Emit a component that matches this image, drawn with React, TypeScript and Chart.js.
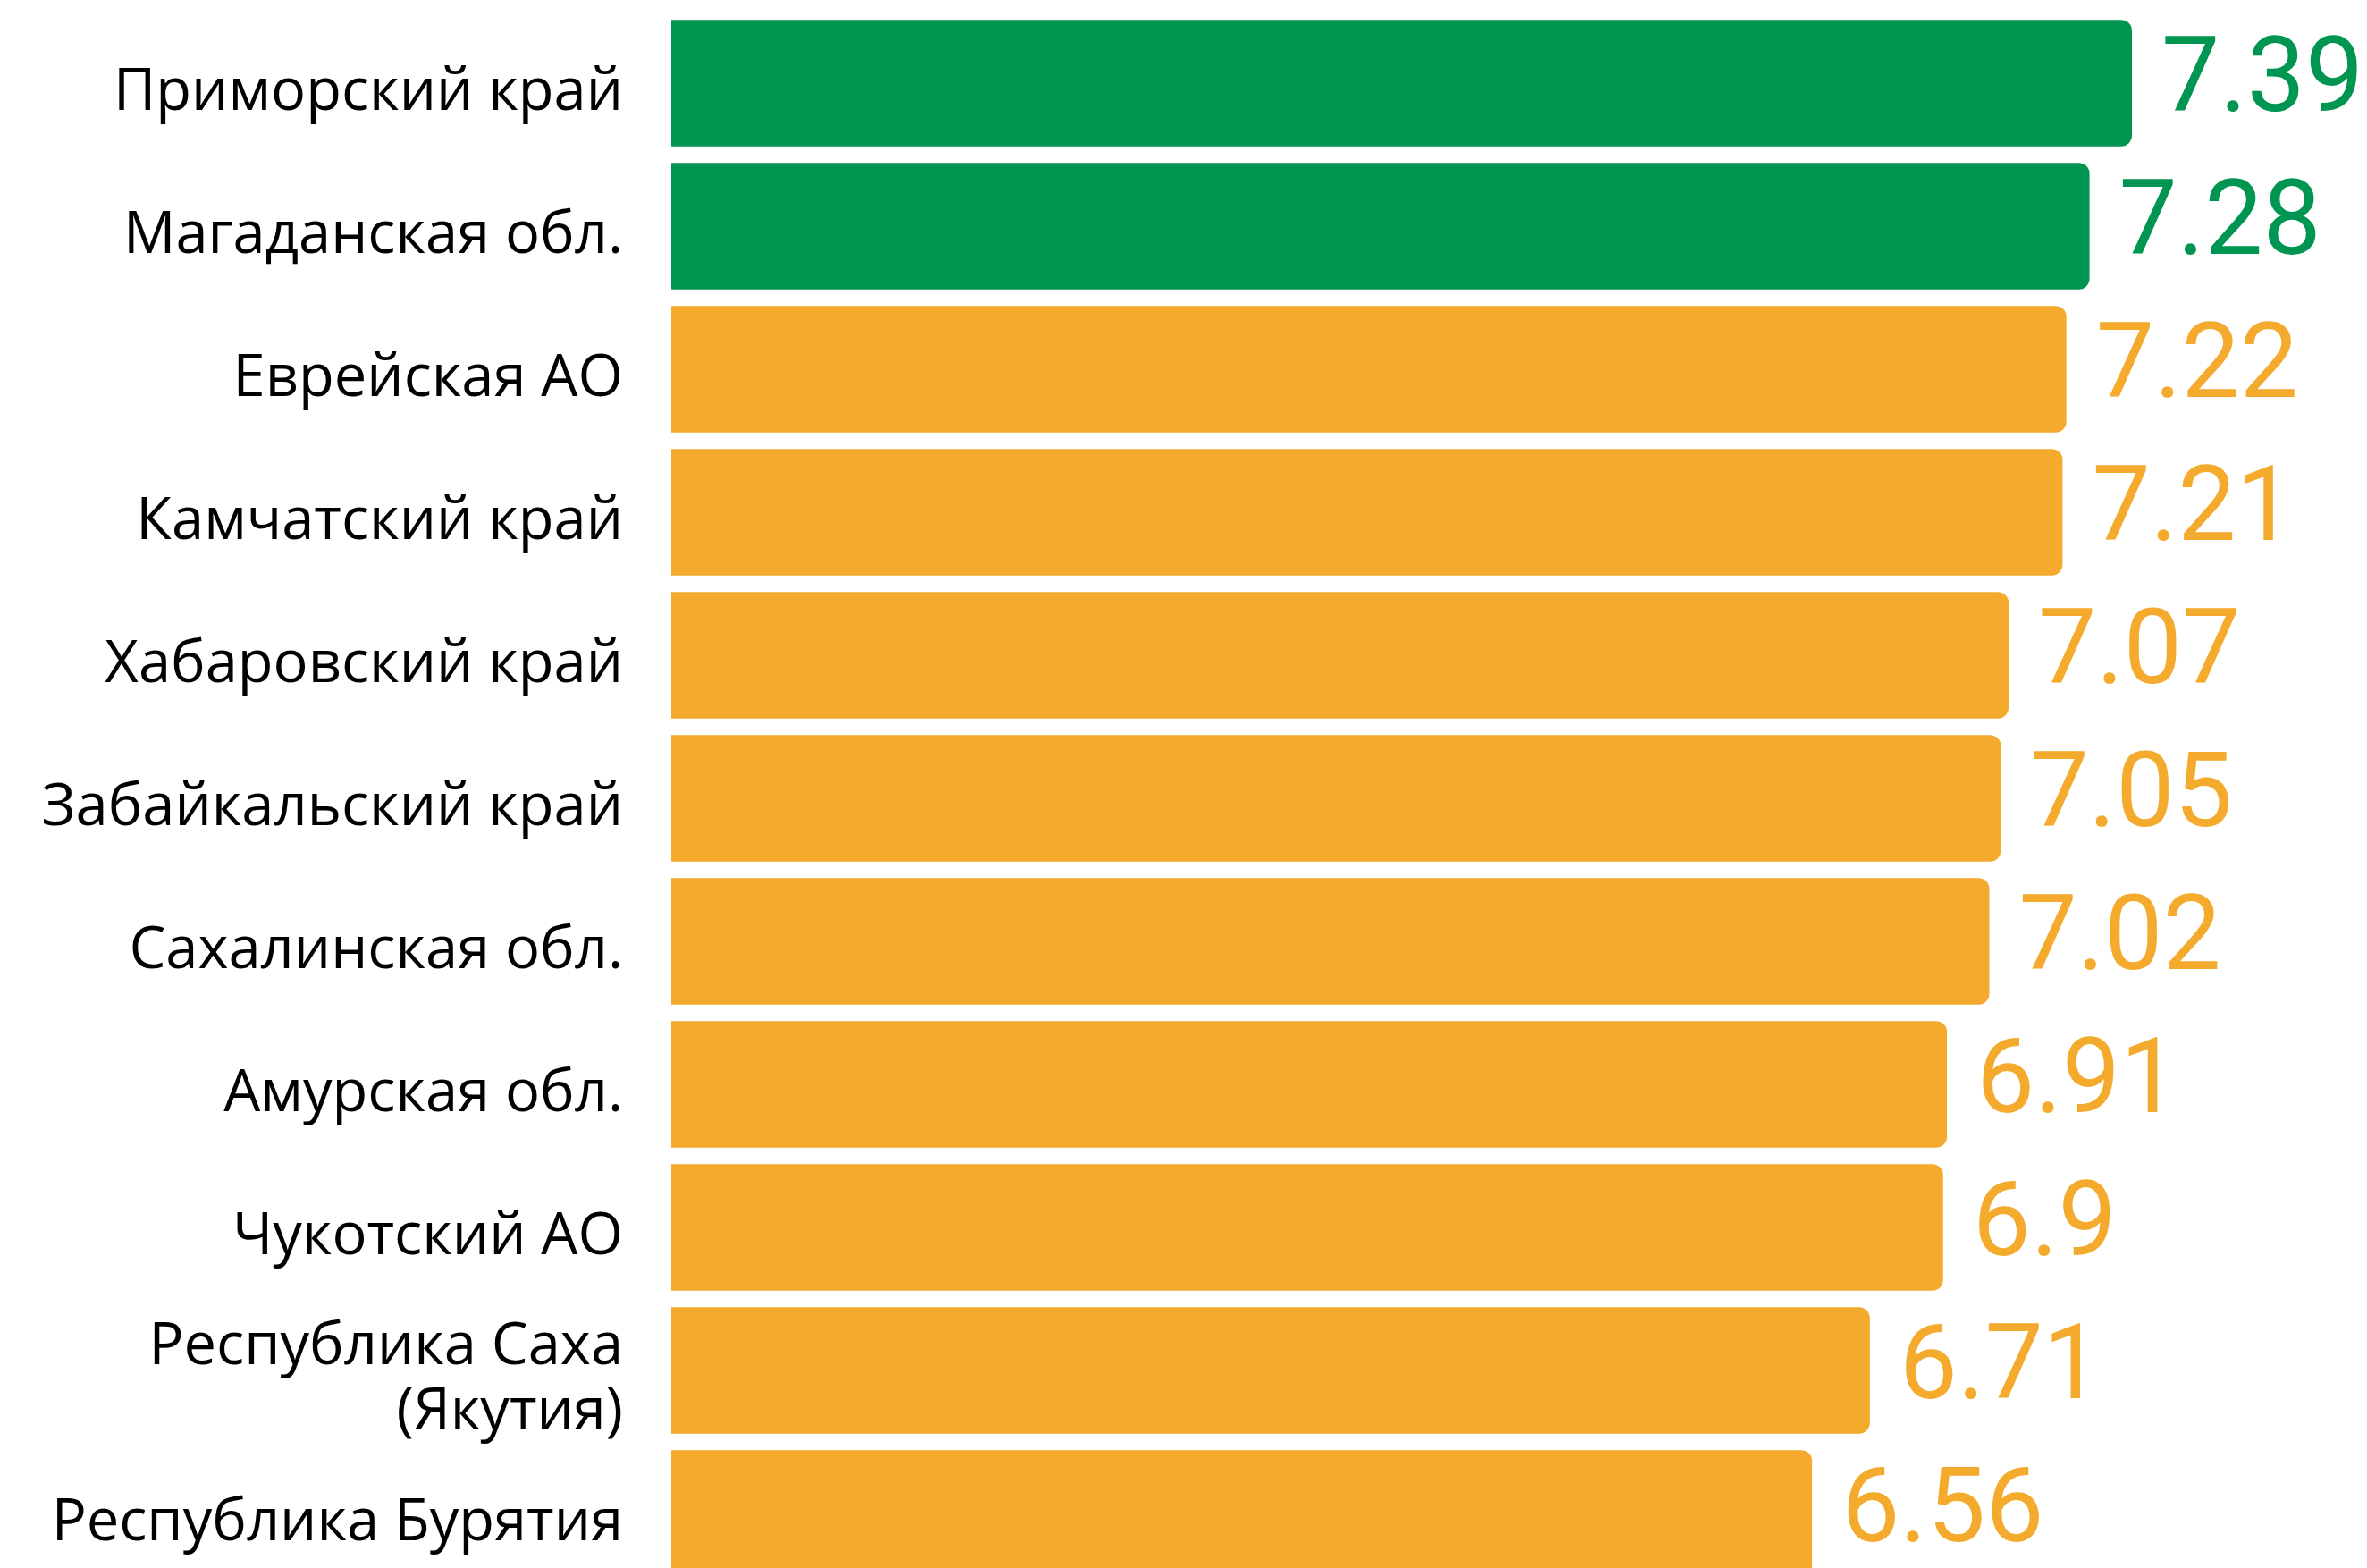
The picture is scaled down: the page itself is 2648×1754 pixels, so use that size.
import React, { useEffect, useRef } from "react";
import { Chart, registerables } from "chart.js";

Chart.register(...registerables);

const categories: (string | string[])[] = [
  "Приморский край",
  "Магаданская обл.",
  "Еврейская АО",
  "Камчатский край",
  "Хабаровский край",
  "Забайкальский край",
  "Сахалинская обл.",
  "Амурская обл.",
  "Чукотский АО",
  ["Республика Саха", "(Якутия)"],
  "Республика Бурятия",
];

const values: number[] = [7.39, 7.28, 7.22, 7.21, 7.07, 7.05, 7.02, 6.91, 6.9, 6.71, 6.56];

const valueLabels: string[] = ["7.39", "7.28", "7.22", "7.21", "7.07", "7.05", "7.02", "6.91", "6.9", "6.71", "6.56"];

const highlighted: boolean[] = [true, true, false, false, false, false, false, false, false, false, false];

const GREEN = "#009652";
const ORANGE = "#F4AB2D";

const valueLabelPlugin = {
  id: "valueLabels",
  afterDatasetsDraw(chart: any) {
    const ctx = chart.ctx;
    const meta = chart.getDatasetMeta(0);
    ctx.save();
    ctx.font = "400 116px Roboto";
    ctx.textAlign = "left";
    ctx.textBaseline = "middle";
    meta.data.forEach((el: any, i: number) => {
      ctx.fillStyle = highlighted[i] ? GREEN : ORANGE;
      ctx.fillText(valueLabels[i], el.x + 33, el.y + 2);
    });
    ctx.restore();
  },
};

export default function App() {
  const ref = useRef<HTMLCanvasElement | null>(null);

  useEffect(() => {
    document.body.style.margin = "0";
    if (!ref.current) return;
    const chart = new Chart(ref.current, {
      type: "bar",
      data: {
        labels: categories,
        datasets: [
          {
            data: values,
            backgroundColor: highlighted.map((h) => (h ? GREEN : ORANGE)),
            borderRadius: 12,
            borderSkipped: false,
            barPercentage: 0.883,
            categoryPercentage: 1,
          },
        ],
      },
      options: {
        indexAxis: "y",
        animation: false,
        responsive: true,
        maintainAspectRatio: false,
        layout: { padding: { top: 13, bottom: 7, left: 0, right: 0 } },
        plugins: {
          legend: { display: false },
          tooltip: { enabled: false },
        },
        scales: {
          x: {
            min: 3.6,
            max: 8.0,
            display: false,
            grid: { display: false },
          },
          y: {
            grid: { display: false },
            border: { display: false },
            afterFit: (s: any) => {
              s.width = 751;
              s.paddingTop = 0;
              s.paddingBottom = 0;
            },
            ticks: {
              padding: 46,
              labelOffset: 11,
              color: "#000000",
              font: { family: "'Open Sans'", size: 65, lineHeight: 1.12 },
            },
          },
        },
      },
      plugins: [valueLabelPlugin],
    });
    return () => chart.destroy();
  }, []);

  return (
    <div style={{ width: 2648, height: 1754, overflow: "hidden", background: "#ffffff" }}>
      <div style={{ width: 2648, height: 1780, position: "relative" }}>
        <canvas ref={ref} />
      </div>
    </div>
  );
}
